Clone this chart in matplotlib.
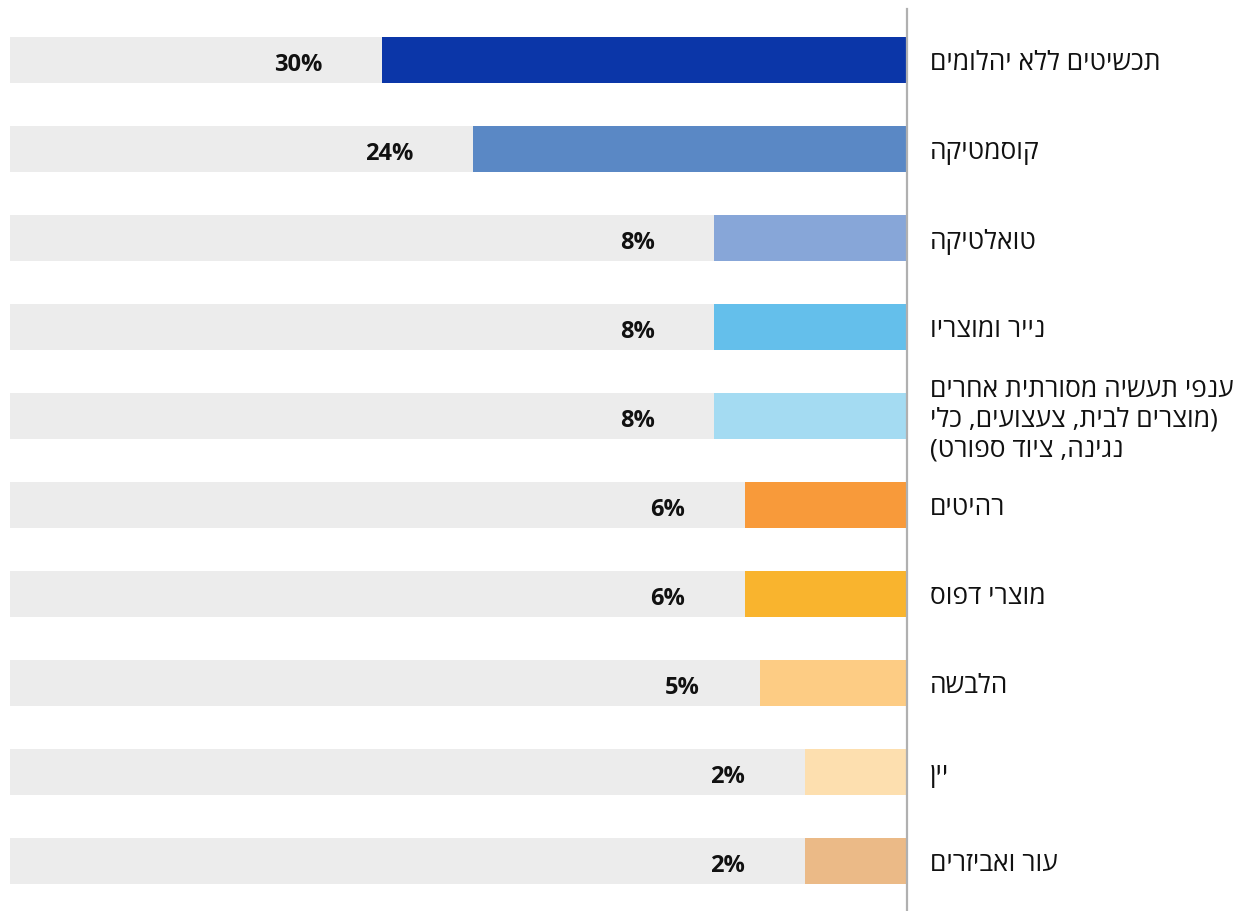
import matplotlib
matplotlib.use("Agg")
import matplotlib.pyplot as plt

# נתונים
categories = [
    "תכשיטים ללא יהלומים",
    "קוסמטיקה",
    "טואלטיקה",
    "נייר ומוצריו",
    "ענפי תעשיה מסורתית אחרים\n(מוצרים לבית, צעצועים, כלי\nנגינה, ציוד ספורט)",
    "רהיטים",
    "מוצרי דפוס",
    "הלבשה",
    "יין",
    "עור ואביזרים",
]
values = [30, 24, 8, 8, 8, 6, 6, 5, 2, 2]
colors = ["#0b36a8", "#5a88c5", "#87a6d8", "#64bfeb", "#a4dbf2",
          "#f89a3a", "#f9b42e", "#fdcc84", "#fddfaf", "#ebba87"]

base = -4.75      # bars start a bit before zero in the original
x_max = 54.65     # grey track end


def visual(s):
    # matplotlib has no bidi: reverse each line and mirror the brackets
    swap = {"(": ")", ")": "("}
    out = []
    for line in s.split("\n"):
        out.append("".join(swap.get(c, c) for c in reversed(line)))
    return "\n".join(out)


fig = plt.figure(figsize=(12.44, 9.12), dpi=100)
W, H = 1244, 912
ax = fig.add_axes([10 / W, 0 / H, 897 / W, 902 / H])

y = list(range(len(values)))
ax.barh(y, [x_max - base] * len(values), left=base, height=0.517,
        color="#ececec", zorder=1)
ax.barh(y, [v - base for v in values], left=base, height=0.517,
        color=colors, zorder=2)

ax.set_xlim(x_max, base)
ax.set_ylim(9.562, -0.573)

for i, (v, lab) in enumerate(zip(values, categories)):
    ax.annotate(f"{v}%", (v, i), xytext=(-43, -3), textcoords="offset points",
                ha="right", va="center", fontsize=17, fontweight="bold",
                family=["Open Sans", "DejaVu Sans"], color="#111111",
                annotation_clip=False)
    ax.annotate(visual(lab), (base, i), xytext=(16.5, -2),
                textcoords="offset points", ha="left", va="center",
                fontsize=19, family=["Open Sans", "DejaVu Sans"],
                color="#111111", linespacing=1.25, annotation_clip=False)

for s in ["top", "left", "bottom"]:
    ax.spines[s].set_visible(False)
ax.spines["right"].set_color("#b0b0b0")
ax.spines["right"].set_linewidth(1.6)
ax.set_xticks([])
ax.set_yticks([])

fig.savefig("out.png", dpi=100)
